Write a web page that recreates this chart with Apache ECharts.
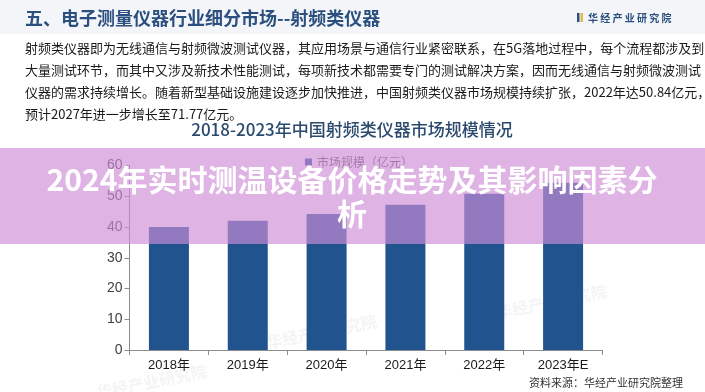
<!DOCTYPE html>
<html>
<head>
<meta charset="utf-8">
<script src="https://cdn.jsdelivr.net/npm/echarts@6/dist/echarts.min.js"></script>
<style>
html,body{margin:0;padding:0;background:#fff;}
#c{width:705px;height:392px;}
</style>
</head>
<body>
<div id="c"></div>
<script>
const categories = ['2018年','2019年','2020年','2021年','2022年','2023年E'];
const marketSize = [40.0, 42.0, 44.2, 47.2, 50.84, 54.4];
const yTicks = {min: 0, max: 60, interval: 10};
const seriesName = '市场规模（亿元）';
const headerTitle = '五、电子测量仪器行业细分市场--射频类仪器';
const logoText = '华 经 产 业 研 究 院';
const paraLines = [
  '射频类仪器即为无线通信与射频微波测试仪器，其应用场景与通信行业紧密联系，在5G落地过程中，每个流程都涉及到',
  '大量测试环节，而其中又涉及新技术性能测试，每项新技术都需要专门的测试解决方案，因而无线通信与射频微波测试',
  '仪器的需求持续增长。随着新型基础设施建设逐步加快推进，中国射频类仪器市场规模持续扩张，2022年达50.84亿元，',
  '预计2027年进一步增长至71.77亿元。'
];
const chartTitle = '2018-2023年中国射频类仪器市场规模情况';
const sourceText = '资料来源：华经产业研究院整理';
const bannerLines = ['2024年实时测温设备价格走势及其影响因素分', '析'];

const CJK = '"Noto Sans CJK SC", "Noto Sans", sans-serif';
const NARROW = '"Liberation Sans Narrow", "Liberation Sans", "Noto Sans CJK SC", sans-serif';

const chart = echarts.init(document.getElementById('c'), null, {renderer: 'canvas'});

const graphics = [
  {type:'rect', z:-10, shape:{x:0,y:0,width:705,height:34}, style:{fill:'#f3f5f8'}, silent:true},
  {type:'text', z:5, style:{text:headerTitle, x:25, y:18, font:'bold 18px ' + CJK, fill:'#2b5080', textVerticalAlign:'middle'}},
  {type:'rect', z:5, shape:{x:577,y:13,width:2.5,height:9}, style:{fill:'#2b5080'}},
  {type:'rect', z:5, shape:{x:580.5,y:13,width:2.5,height:9}, style:{fill:'#e7b84a'}},
  {type:'text', z:5, style:{text:logoText, x:588, y:18, font:'bold 10px ' + CJK, fill:'#2b5080', textVerticalAlign:'middle'}},
  {type:'text', z:5, style:{text:chartTitle, x:352, y:130, font:'500 17px ' + CJK, fill:'#2b4a6e', textAlign:'center', textVerticalAlign:'middle'}},
  {type:'text', z:5, style:{text:sourceText, x:683, y:383, font:'11px ' + CJK, fill:'#333', textAlign:'right', textVerticalAlign:'middle'}},
  // faint watermarks
  {type:'text', z:-5, rotation:0.2, x:95, y:385, style:{text:'华经产业研究院', font:'bold 16px ' + CJK, fill:'rgba(200,205,215,0.22)'}},
  {type:'text', z:-5, rotation:0.2, x:265, y:335, style:{text:'华经产业研究院', font:'bold 16px ' + CJK, fill:'rgba(200,205,215,0.22)'}},
  {type:'text', z:-5, rotation:0.2, x:495, y:305, style:{text:'华经产业研究院', font:'bold 16px ' + CJK, fill:'rgba(200,205,215,0.22)'}}
];
paraLines.forEach(function(line, i){
  graphics.push({type:'text', z:5, style:{text:line, x:25, y:48 + i*22, font:'13px ' + CJK, fill:'#1a1a1a', textVerticalAlign:'middle'}});
});
// translucent banner overlay
graphics.push({type:'rect', z:100, shape:{x:0,y:148,width:705,height:96}, style:{fill:'rgba(207,141,215,0.66)'}, silent:true});
bannerLines.forEach(function(line, i){
  graphics.push({type:'text', z:101, style:{text:line, x:352, y:180 + i*34, font:'bold 30px ' + CJK, fill:'#ffffff', textAlign:'center', textVerticalAlign:'middle'}});
});

const option = {
  animation: false,
  backgroundColor: '#ffffff',
  textStyle: {fontFamily: NARROW},
  legend: {
    data: [seriesName],
    left: 300, top: 151,
    icon: 'rect', itemWidth: 7, itemHeight: 7, itemGap: 4,
    textStyle: {fontSize: 12, color: '#595959', fontFamily: CJK},
    selectedMode: false
  },
  grid: {left: 129.5, right: 102.5, top: 165.5, bottom: 42, containLabel: false},
  xAxis: {
    type: 'category',
    data: categories,
    axisLine: {lineStyle: {color: '#8c8c8c', width: 1}},
    axisTick: {show: true, alignWithLabel: false, length: 5, lineStyle: {color: '#8c8c8c'}},
    axisLabel: {color: '#1a1a1a', fontSize: 13, margin: 9, fontFamily: NARROW},
    splitLine: {show: false}
  },
  yAxis: {
    type: 'value',
    min: yTicks.min, max: yTicks.max, interval: yTicks.interval,
    axisLine: {show: true, lineStyle: {color: '#8c8c8c', width: 1}},
    axisTick: {show: true, length: 5, lineStyle: {color: '#8c8c8c'}},
    axisLabel: {color: '#404040', fontSize: 14, margin: 7, fontFamily: NARROW},
    splitLine: {show: false}
  },
  series: [{
    name: seriesName,
    type: 'bar',
    data: marketSize,
    barWidth: 40,
    itemStyle: {color: '#21548f'}
  }],
  graphic: {elements: graphics}
};
chart.setOption(option);
</script>
</body>
</html>
